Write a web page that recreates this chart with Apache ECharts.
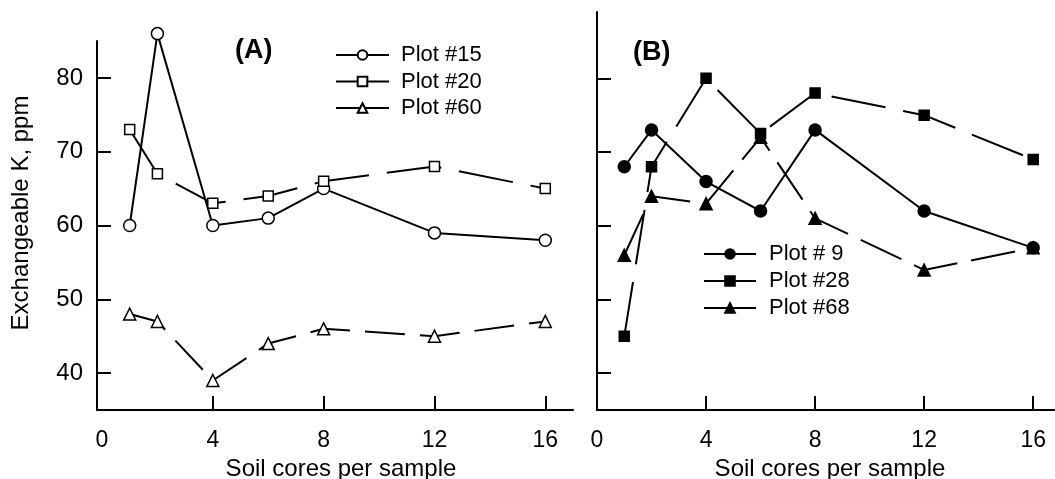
<!DOCTYPE html>
<html>
<head>
<meta charset="utf-8">
<script src="https://cdn.jsdelivr.net/npm/echarts@6/dist/echarts.min.js"></script>
<style>
    html, body { margin: 0; padding: 0; background: #fff; }
    #chart { width: 1055px; height: 479px; }
</style>
</head>
<body>
<div id="chart"></div>
<script>
    // soil cores per sample
    const cores = [1, 2, 4, 6, 8, 12, 16];
    const xLabels = [0, 4, 8, 12, 16];
    const xTicks = [4, 8, 12, 16];
    const yTicks = [40, 50, 60, 70, 80];

    // panel A (open symbols)
    const plot15 = [60, 86, 60, 61, 65, 59, 58];
    const plot20 = [73, 67, 63, 64, 66, 68, 65];
    const plot60 = [48, 47, 39, 44, 46, 45, 47];

    // panel B (filled symbols)
    const plot9 = [68, 73, 66, 62, 73, 62, 57];
    const plot28 = [45, 68, 80, 72.5, 78, 75, 69];
    const plot68 = [56, 64, 63, 72, 61, 54, 57];

    const FONT = 'Liberation Sans, Arial, sans-serif';

    function pairs(vals) {
        return cores.map((c, i) => [c, vals[i]]);
    }

    function mkSeries(name, vals, idx, symbol, filled, dash) {
        return {
            name: name,
            type: 'line',
            xAxisIndex: idx,
            yAxisIndex: idx,
            data: pairs(vals),
            symbol: symbol,
            symbolSize: symbol === 'rect' ? 10 : 12,
            showAllSymbol: true,
            clip: false,
            animation: false,
            lineStyle: {color: '#000', width: 2, type: dash || 'solid'},
            itemStyle: {
                color: filled ? '#000' : '#fff',
                borderColor: '#000',
                borderWidth: 1.5
            },
            emphasis: {disabled: true}
        }
    }

    function xAxisFor(idx, min, max) {
        return {
            type: 'value',
            gridIndex: idx,
            min: min,
            max: max,
            name: 'Soil cores per sample',
            nameLocation: 'middle',
            nameGap: 45,
            nameTextStyle: {fontFamily: FONT, fontSize: 24, color: '#000', padding: [0, 0, 0, idx === 0 ? 12 : 8]},
            axisLine: {onZero: false, lineStyle: {color: '#000', width: 2}},
            axisTick: {inside: true, length: 14, lineStyle: {color: '#000', width: 2}, customValues: xTicks},
            axisLabel: {fontFamily: FONT, fontSize: 23, color: '#000', margin: 19, customValues: xLabels},
            splitLine: {show: false}
        }
    }

    function yAxisFor(idx, max) {
        return {
            type: 'value',
            gridIndex: idx,
            min: 35,
            max: max,
            name: idx === 0 ? 'Exchangeable K, ppm' : '',
            nameLocation: 'middle',
            nameGap: 64,
            nameRotate: 90,
            nameTextStyle: {fontFamily: FONT, fontSize: 24, color: '#000', padding: [0, 0, 0, 25]},
            axisLine: {onZero: false, lineStyle: {color: '#000', width: 2}},
            axisTick: {inside: true, length: 14, lineStyle: {color: '#000', width: 2}, customValues: yTicks},
            axisLabel: {show: idx === 0, fontFamily: FONT, fontSize: 24, color: '#000', margin: 14, customValues: yTicks},
            splitLine: {show: false}
        }
    }

    const chart = echarts.init(document.getElementById('chart'));
    chart.setOption({
        backgroundColor: '#fff',
        animation: false,
        title: [
            {text: '(A)', left: 235, top: 37, padding: 0,
                textStyle: {fontFamily: FONT, fontSize: 27, fontWeight: 'bold', color: '#000'}},
            {text: '(B)', left: 633, top: 39, padding: 0,
                textStyle: {fontFamily: FONT, fontSize: 27, fontWeight: 'bold', color: '#000'}}
        ],
        legend: [
            {
                data: ['Plot #15', 'Plot #20', 'Plot #60'],
                orient: 'vertical',
                left: 335, top: 44, padding: 0,
                itemWidth: 53, itemHeight: 12, itemGap: 4.5,
                lineStyle: {type: 'solid', width: 2},
                textStyle: {fontFamily: FONT, fontSize: 22, color: '#000', padding: [0, 0, 0, 7]}
            },
            {
                data: ['Plot # 9', 'Plot #28', 'Plot #68'],
                orient: 'vertical',
                left: 703, top: 243, padding: 0,
                itemWidth: 52, itemHeight: 12, itemGap: 5,
                lineStyle: {type: 'solid', width: 2},
                textStyle: {fontFamily: FONT, fontSize: 22, color: '#000', padding: [0, 0, 0, 8]}
            }
        ],
        grid: [
            {left: 97, top: 41, width: 476, height: 369, outerBoundsMode: 'none', containLabel: false},
            {left: 597, top: 12, width: 458, height: 398, outerBoundsMode: 'none', containLabel: false}
        ],
        xAxis: [xAxisFor(0, -0.18, 17), xAxisFor(1, 0, 16.8)],
        yAxis: [yAxisFor(0, 85), yAxisFor(1, 89)],
        series: [
            mkSeries('Plot #15', plot15, 0, 'circle', false),
            mkSeries('Plot #20', plot20, 0, 'rect', false, [55, 18]),
            mkSeries('Plot #60', plot60, 0, 'triangle', false, [40, 15]),
            mkSeries('Plot # 9', plot9, 1, 'circle', true),
            mkSeries('Plot #28', plot28, 1, 'rect', true, [55, 18]),
            mkSeries('Plot #68', plot68, 1, 'triangle', true, [45, 14])
        ]
    });
</script>
</body>
</html>
